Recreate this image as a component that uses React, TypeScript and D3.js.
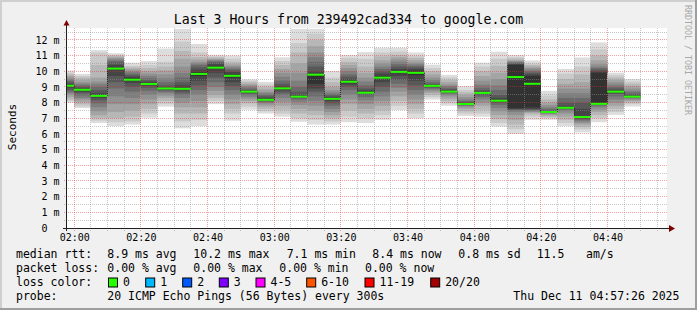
import React from "react";
import * as d3 from "d3";

const WIDTH = 697;
const HEIGHT = 310;

const titleText = "Last 3 Hours from 239492cad334 to google.com";
const yAxisTitle = "Seconds";
const watermark = "RRDTOOL / TOBI OETIKER";

const yTickValues = [0, 1, 2, 3, 4, 5, 6, 7, 8, 9, 10, 11, 12];
const xTickLabels = ["02:00", "02:20", "02:40", "03:00", "03:20", "03:40", "04:00", "04:20", "04:40"];

const firstSlotStart = new Date(2025, 11, 11, 1, 55, 0);
const viewStart = new Date(2025, 11, 11, 1, 57, 54);
const viewEnd = new Date(2025, 11, 11, 4, 57, 54);
const yMax = 12.76;

// median rtt per 5-minute slot (ms)
const medianRtt = [
  9.08, 8.82, 8.43, 10.17, 9.46, 9.19, 8.9, 8.88, 9.83, 10.23, 9.71, 8.7, 8.18, 8.91, 8.38, 9.78, 8.24, 9.33,
  8.63, 9.59, 9.96, 9.9, 9.07, 8.7, 7.91, 8.62, 8.12, 9.63, 9.2, 7.4, 7.67, 7.08, 7.92, 8.7, 8.38,
];

// the 20 sorted ping times of each slot (ms)
const pingTimes = [
  [8.0, 8.1, 8.2, 8.35, 8.5, 8.6, 8.7, 8.8, 8.95, 9.05, 9.15, 9.2, 9.3, 9.4, 9.5, 9.6, 9.7, 9.8, 9.9, 10.05],
  [7.65, 7.75, 7.9, 8.05, 8.2, 8.3, 8.45, 8.6, 8.7, 8.78, 8.86, 8.92, 9.0, 9.1, 9.2, 9.3, 9.45, 9.6, 9.7, 9.83],
  [6.7, 6.85, 7.0, 7.2, 7.45, 7.7, 7.95, 8.15, 8.3, 8.38, 8.46, 8.6, 8.8, 9.0, 9.2, 9.35, 9.6, 10.4, 11.2, 11.35],
  [6.5, 6.75, 7.0, 7.4, 7.9, 8.4, 8.9, 9.3, 9.7, 10.1, 10.24, 10.4, 10.55, 10.65, 10.75, 10.82, 10.9, 10.98, 11.05, 11.15],
  [6.6, 6.8, 7.1, 7.5, 7.9, 8.3, 8.7, 9.0, 9.25, 9.42, 9.54, 9.65, 9.75, 9.85, 9.95, 10.05, 10.15, 10.25, 10.35, 10.55],
  [7.04, 7.3, 7.6, 7.9, 8.2, 8.5, 8.75, 8.95, 9.08, 9.15, 9.23, 9.32, 9.42, 9.55, 9.7, 9.85, 10.0, 10.2, 10.4, 10.65],
  [7.74, 7.9, 8.1, 8.3, 8.45, 8.6, 8.7, 8.78, 8.84, 8.88, 8.92, 8.98, 9.1, 9.3, 9.55, 9.8, 10.05, 10.3, 10.6, 11.45],
  [6.36, 6.8, 7.3, 7.7, 8.0, 8.3, 8.5, 8.65, 8.78, 8.85, 8.93, 9.1, 9.3, 9.6, 9.9, 10.3, 10.8, 11.3, 11.9, 12.7],
  [6.5, 6.9, 7.3, 7.7, 8.1, 8.5, 8.8, 9.1, 9.4, 9.7, 9.94, 10.1, 10.25, 10.4, 10.5, 10.6, 10.75, 10.9, 11.2, 11.74],
  [7.9, 8.1, 8.3, 8.5, 8.75, 9.0, 9.3, 9.6, 9.9, 10.15, 10.31, 10.45, 10.55, 10.62, 10.68, 10.74, 10.8, 10.88, 10.95, 11.05],
  [6.85, 7.3, 7.6, 7.9, 8.2, 8.5, 8.8, 9.05, 9.3, 9.6, 9.8, 9.95, 10.05, 10.15, 10.25, 10.35, 10.45, 10.6, 10.8, 11.0],
  [7.55, 7.75, 7.95, 8.1, 8.25, 8.38, 8.5, 8.58, 8.64, 8.68, 8.72, 8.76, 8.82, 8.9, 9.0, 9.1, 9.2, 9.3, 9.4, 9.48],
  [7.3, 7.45, 7.6, 7.75, 7.88, 7.98, 8.05, 8.1, 8.14, 8.18, 8.22, 8.3, 8.4, 8.5, 8.6, 8.7, 8.85, 9.0, 9.15, 9.32],
  [7.1, 7.3, 7.55, 7.8, 8.05, 8.3, 8.5, 8.65, 8.78, 8.87, 8.95, 9.05, 9.2, 9.4, 9.65, 9.9, 10.15, 10.4, 10.65, 10.89],
  [6.78, 7.0, 7.3, 7.6, 7.85, 8.05, 8.2, 8.28, 8.33, 8.36, 8.4, 8.5, 8.7, 9.0, 9.4, 9.9, 10.5, 11.2, 11.8, 12.7],
  [6.6, 6.9, 7.2, 7.5, 7.8, 8.1, 8.4, 8.7, 8.9, 9.2, 9.8, 10.0, 10.3, 10.6, 10.9, 11.2, 11.6, 12.0, 12.4, 12.7],
  [6.6, 6.8, 7.0, 7.2, 7.4, 7.6, 7.8, 7.95, 8.1, 8.2, 8.27, 8.35, 8.45, 8.55, 8.65, 8.8, 9.0, 9.3, 9.6, 10.02],
  [6.75, 7.1, 7.5, 7.9, 8.2, 8.5, 8.8, 9.0, 9.15, 9.27, 9.39, 9.5, 9.65, 9.8, 10.0, 10.2, 10.4, 10.6, 10.85, 11.04],
  [6.7, 7.0, 7.3, 7.6, 7.9, 8.15, 8.35, 8.5, 8.58, 8.63, 8.68, 8.78, 8.9, 9.1, 9.35, 9.6, 9.9, 10.3, 10.8, 11.22],
  [6.9, 7.2, 7.5, 7.8, 8.1, 8.4, 8.7, 9.0, 9.3, 9.5, 9.68, 9.85, 10.0, 10.15, 10.3, 10.5, 10.7, 10.95, 11.2, 11.5],
  [7.53, 7.8, 8.1, 8.4, 8.7, 8.95, 9.2, 9.45, 9.7, 9.9, 10.03, 10.15, 10.3, 10.45, 10.6, 10.75, 10.9, 11.05, 11.25, 11.5],
  [7.0, 7.3, 7.6, 7.9, 8.2, 8.5, 8.8, 9.1, 9.4, 9.75, 10.03, 10.15, 10.25, 10.35, 10.45, 10.55, 10.7, 10.85, 11.0, 11.2],
  [8.2, 8.35, 8.5, 8.62, 8.72, 8.82, 8.9, 8.96, 9.01, 9.04, 9.08, 9.13, 9.2, 9.3, 9.45, 9.6, 9.8, 10.0, 10.2, 10.42],
  [7.8, 7.95, 8.1, 8.25, 8.4, 8.5, 8.58, 8.63, 8.67, 8.69, 8.72, 8.78, 8.86, 8.95, 9.05, 9.15, 9.3, 9.45, 9.6, 9.77],
  [7.15, 7.3, 7.45, 7.6, 7.7, 7.78, 7.83, 7.87, 7.89, 7.9, 7.93, 7.97, 8.03, 8.1, 8.2, 8.35, 8.5, 8.65, 8.8, 9.05],
  [7.1, 7.3, 7.55, 7.8, 8.0, 8.2, 8.35, 8.47, 8.55, 8.59, 8.64, 8.7, 8.8, 8.95, 9.15, 9.4, 9.7, 10.0, 10.3, 10.55],
  [6.47, 6.7, 6.95, 7.2, 7.45, 7.65, 7.85, 7.98, 8.05, 8.1, 8.16, 8.3, 8.5, 8.8, 9.1, 9.5, 9.9, 10.35, 10.8, 11.25],
  [6.0, 6.3, 6.6, 6.9, 7.2, 7.4, 7.5, 7.55, 7.6, 7.65, 10.4, 10.45, 10.5, 10.55, 10.6, 10.65, 10.7, 10.8, 10.9, 11.04],
  [6.9, 7.1, 7.25, 7.35, 7.4, 7.45, 7.5, 7.55, 7.6, 7.7, 9.7, 9.8, 9.9, 10.0, 10.1, 10.2, 10.3, 10.4, 10.5, 10.68],
  [6.9, 7.0, 7.1, 7.18, 7.25, 7.3, 7.34, 7.37, 7.39, 7.41, 7.43, 7.46, 7.5, 7.6, 7.7, 7.85, 8.0, 8.2, 8.45, 8.75],
  [6.5, 6.7, 6.9, 7.1, 7.3, 7.45, 7.55, 7.6, 7.63, 7.65, 7.69, 7.8, 8.0, 8.3, 8.6, 8.9, 9.2, 9.5, 9.85, 10.15],
  [6.1, 6.3, 6.45, 6.6, 6.7, 6.8, 6.88, 6.95, 7.0, 7.02, 7.06, 7.6, 8.0, 8.3, 8.6, 8.9, 9.3, 9.8, 10.3, 10.88],
  [6.75, 7.0, 7.2, 7.4, 7.55, 7.7, 7.8, 7.85, 7.88, 7.9, 9.9, 10.0, 10.1, 10.2, 10.3, 10.45, 10.7, 11.0, 11.4, 11.84],
  [7.22, 7.4, 7.6, 7.8, 8.0, 8.2, 8.4, 8.55, 8.63, 8.68, 8.72, 8.8, 8.9, 9.0, 9.15, 9.3, 9.45, 9.6, 9.75, 9.91],
  [7.75, 7.9, 8.0, 8.1, 8.18, 8.25, 8.3, 8.34, 8.36, 8.37, 8.39, 8.45, 8.55, 8.65, 8.75, 8.9, 9.05, 9.2, 9.35, 9.5],
];

const lossColors = ["#26ff00", "#00b8ff", "#0059ff", "#7e00ff", "#ff00ff", "#ff5500", "#ff0000", "#a10000"];
const lossLabels = ["0", "1", "2", "3", "4-5", "6-10", "11-19", "20/20"];

const rttLabel = "median rtt:";
const rttStats = ["8.9 ms avg", "10.2 ms max", "7.1 ms min", "8.4 ms now", "0.8 ms sd", "11.5", "am/s"];
const lossLabel = "packet loss:";
const lossStats = ["0.00 % avg", "0.00 % max", "0.00 % min", "0.00 % now"];
const colorLabel = "loss color:";
const probeLabel = "probe:";
const probeText = "20 ICMP Echo Pings (56 Bytes) every 300s";
const dateText = "Thu Dec 11 04:57:26 2025";

const MONO = "'DejaVu Sans Mono', monospace";

export default function App() {
  const left = 67, right = 667, top = 28, bottom = 228;
  const x = d3.scaleTime().domain([viewStart, viewEnd]).range([left, right]);
  const y = d3.scaleLinear().domain([0, yMax]).range([bottom, top]);

  const slots = medianRtt.map((m, i) => {
    const t0 = d3.timeMinute.offset(firstSlotStart, 5 * i);
    const t1 = d3.timeMinute.offset(firstSlotStart, 5 * (i + 1));
    return { x0: Math.max(x(t0), left), x1: x(t1), xs: x(t0), m, p: pingTimes[i] };
  });

  const minorTimes = d3.timeMinute.every(5)!.range(viewStart, viewEnd);
  const hGrid = d3.range(1, 26).map((i) => i * 0.5);
  const px = (v: number) => Math.floor(v) + 0.5;

  const minorCol = "rgba(143,143,143,0.5)";
  const majorCol = "rgba(222,48,48,0.45)";

  const rttX = [107.3, 193.3, 286.7, 372.3, 458.3, 536.7, 586];
  const lossX = [107.3, 193.3, 279.3, 365];
  const boxX = [108.5, 145.7, 182.7, 219.3, 256, 306.7, 365, 430.7];

  return (
    <svg
      width={WIDTH}
      height={HEIGHT}
      style={{ position: "absolute", left: 0, top: 0 }}
      fontFamily={MONO}
    >
      <defs>
        <clipPath id="canvas">
          <rect x={left} y={top} width={right - left} height={bottom - top} />
        </clipPath>
      </defs>
      <rect x={0} y={0} width={WIDTH} height={HEIGHT} fill="#f0f0f0" />
      <rect x={0} y={0} width={WIDTH} height={2} fill="#cfcfcf" />
      <rect x={0} y={0} width={2} height={HEIGHT} fill="#cfcfcf" />
      <rect x={0} y={HEIGHT - 2} width={WIDTH} height={2} fill="#9e9e9e" />
      <rect x={WIDTH - 2} y={0} width={2} height={HEIGHT} fill="#9e9e9e" />
      <rect x={left} y={top} width={right - left} height={bottom - top} fill="#ffffff" />

      <g clipPath="url(#canvas)">
        {slots.map((s, i) =>
          d3.range(10).map((k) => {
            const g = Math.floor((190 / 10) * (9 - k)) + 50;
            const lo = s.p[k];
            const hi = s.p[19 - k];
            return (
              <rect
                key={`b${i}-${k}`}
                x={s.x0}
                width={s.x1 - s.x0}
                y={y(hi)}
                height={y(lo) - y(hi)}
                fill={`rgb(${g},${g},${g})`}
              />
            );
          })
        )}
      </g>

      {/* grid */}
      <g strokeWidth={1} strokeDasharray="1,1" fill="none">
        {hGrid.map((v) => (
          <line
            key={`h${v}`}
            x1={left - 3}
            x2={right}
            y1={px(y(v))}
            y2={px(y(v))}
            stroke={Number.isInteger(v) ? majorCol : minorCol}
          />
        ))}
        {minorTimes.map((t) => {
          const major = t.getMinutes() % 20 === 0;
          return (
            <line
              key={`v${+t}`}
              x1={px(x(t))}
              x2={px(x(t))}
              y1={top}
              y2={bottom + 3}
              stroke={major ? majorCol : minorCol}
            />
          );
        })}
      </g>

      {/* median line */}
      <g>
        {slots.map((s, i) =>
          i > 0 ? (
            <line
              key={`c${i}`}
              x1={px(s.xs)}
              x2={px(s.xs)}
              y1={y(slots[i - 1].m)}
              y2={y(s.m)}
              stroke="#202020"
              strokeWidth={1}
              strokeDasharray="1,1"
            />
          ) : null
        )}
        {slots.map((s, i) => (
          <line key={`m${i}`} x1={s.x0} x2={s.x1} y1={y(s.m)} y2={y(s.m)} stroke={lossColors[0]} strokeWidth={2} />
        ))}
      </g>

      {/* axes */}
      <line x1={66.5} x2={66.5} y1={25} y2={231} stroke="#202020" />
      <line x1={63} x2={669} y1={228.5} y2={228.5} stroke="#202020" />
      <path d="M63.5,25.5 L69.5,25.5 L66.5,20 Z" fill="#7f0000" />
      <path d="M669,225 L669,232 L675,228.5 Z" fill="#7f0000" />

      {/* y labels */}
      <g fontSize={10} fill="#000">
        {yTickValues.map((v) => (
          <text key={`yl${v}`} x={v === 0 ? 47.5 : 59.5} y={y(v) + 3.7} textAnchor="end" style={{ whiteSpace: "pre" }}>
            {v === 0 ? "0" : `${v} m`}
          </text>
        ))}
      </g>
      {/* x labels */}
      <g fontSize={10} fill="#000">
        {xTickLabels.map((l) => {
          const [hh, mm] = l.split(":").map(Number);
          const t = new Date(2025, 11, 11, hh, mm, 0);
          return (
            <text key={`xl${l}`} x={x(t) + 0.7} y={240.5} textAnchor="middle">
              {l}
            </text>
          );
        })}
      </g>

      {/* titles */}
      <text x={348.5} y={23.5} textAnchor="middle" fontSize={13.2} fill="#000">
        {titleText}
      </text>
      <text
        transform="translate(15.5,127) rotate(-90)"
        textAnchor="middle"
        fontSize={11}
        fill="#000"
      >
        {yAxisTitle}
      </text>
      <text transform="translate(685,5) rotate(90)" fontSize={8.3} fill="#a8a8a8">
        {watermark}
      </text>

      {/* legend */}
      <g fontSize={11.5} fill="#000" style={{ whiteSpace: "pre" }}>
        <text x={16} y={257.5}>{rttLabel}</text>
        {rttStats.map((s, i) => (
          <text key={`rs${i}`} x={rttX[i]} y={257.5}>{s}</text>
        ))}
        <text x={16} y={271.5}>{lossLabel}</text>
        {lossStats.map((s, i) => (
          <text key={`ls${i}`} x={lossX[i]} y={271.5}>{s}</text>
        ))}
        <text x={16} y={285.5}>{colorLabel}</text>
        {lossLabels.map((l, i) => (
          <g key={`lc${i}`}>
            <rect x={boxX[i]} y={278} width={9} height={9} fill={lossColors[i]} stroke="#000" strokeWidth={1} />
            <text x={boxX[i] + 14.5} y={285.5}>{l}</text>
          </g>
        ))}
        <text x={16} y={299.5}>{probeLabel}</text>
        <text x={107.3} y={299.5}>{probeText}</text>
        <text x={513.3} y={299.5}>{dateText}</text>
      </g>
    </svg>
  );
}
